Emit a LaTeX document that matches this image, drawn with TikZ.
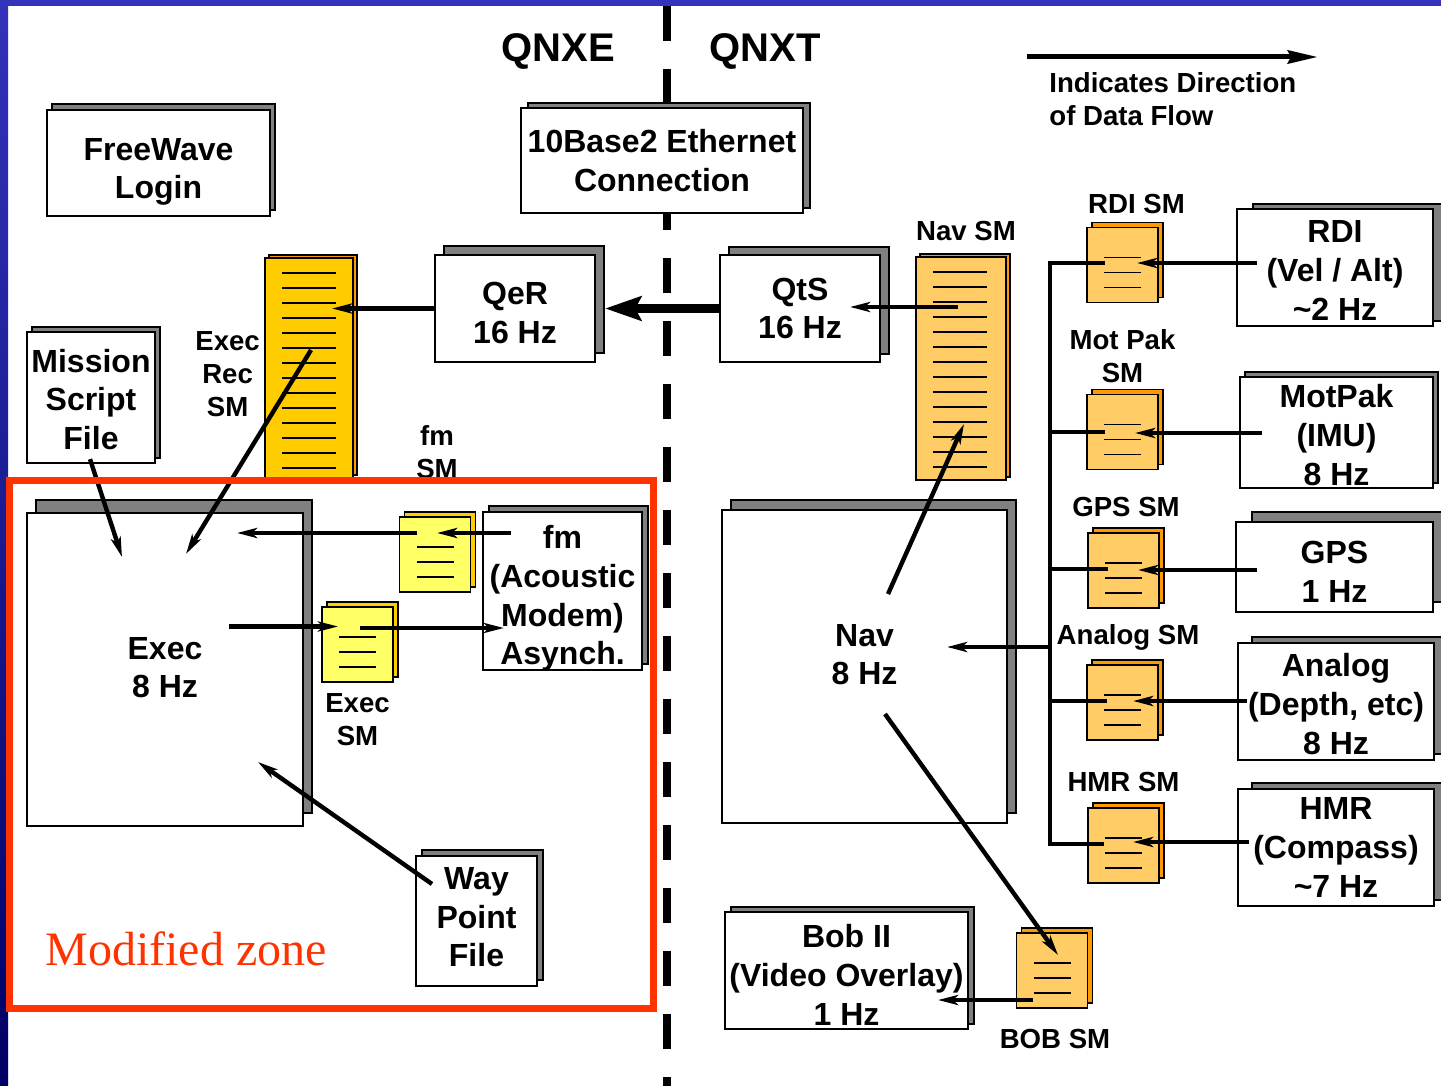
\documentclass[tikz,border=0pt]{standalone}
\usepackage{fontspec}
\setmainfont{Liberation Sans}
\newfontfamily\zoneserif{Liberation Serif}
\usepackage{xcolor}
\usepackage{tikz}
\usetikzlibrary{arrows.meta, positioning, calc, shadows}
\definecolor{frameblue}{RGB}{51,51,187}
\definecolor{framenavy}{RGB}{0,0,102}
\definecolor{zonered}{RGB}{255,51,0}
\definecolor{shadowgray}{RGB}{128,128,128}
\definecolor{smorange}{RGB}{255,204,102}
\definecolor{smback}{RGB}{255,153,0}
\definecolor{recgold}{RGB}{255,204,0}
\definecolor{smyellow}{RGB}{255,255,102}
\newcommand{\boxfont}{\fontsize{16}{19.3}\selectfont\bfseries}
\newcommand{\tagfont}{\fontsize{13.8}{16.5}\selectfont\bfseries}
\newcommand{\headfont}{\fontsize{20}{24}\selectfont\bfseries}

\begin{document}
\begin{tikzpicture}[
    x=0.5pt, y=-0.5pt,
    box/.style={rectangle, draw, line width=1.1pt, fill=white, inner sep=0pt, align=center, font=\boxfont,
        copy shadow={shadow xshift=3pt, shadow yshift=3pt, fill=shadowgray, draw=black, line width=1.1pt, #1}},
    box/.default={},
    smdoc/.style={rectangle, draw, line width=0.8pt, fill=smorange, inner sep=0pt,
        minimum width=35.5pt, minimum height=37.5pt,
        copy shadow={shadow xshift=2.5pt, shadow yshift=2.5pt, fill=#1, draw=black, line width=0.8pt},
        path picture={
            \foreach \k in {30,45,60}
                \draw[line width=0.8pt] ($(path picture bounding box.north west)+(17,\k)$) -- ++(37,0);
        }},
    smdoc/.default=smback,
    recdoc/.style={rectangle, draw, line width=0.8pt, fill=#1, inner sep=0pt,
        copy shadow={shadow xshift=2pt, shadow yshift=1.5pt, fill=smback, draw=black, line width=0.8pt},
        path picture={
            \foreach \k in {1,...,14}
                \draw[line width=0.8pt] ($(path picture bounding box.north west)+(17,15*\k)$) -- ++(54,0);
        }},
    tag/.style={font=\tagfont, align=center, inner sep=0pt},
    flow/.style={-{Stealth[length=10pt, width=5pt, inset=2.5pt]}, line width=2.2pt},
    wire/.style={line width=2.2pt},
    bigflow/.style={-{Stealth[length=18pt, width=12pt, inset=3pt]}, line width=4.5pt},
    legflow/.style={-{Stealth[length=15pt, width=6.5pt, inset=1.5pt]}, line width=2.5pt}
]
\useasboundingbox (0,0) rectangle (1441,1086);

% slide frame
\fill[frameblue] (0,0) rectangle (1441,6);
\shade[top color=frameblue, bottom color=framenavy] (0,0) rectangle (8,1086);

% QNXE / QNXT split
\coordinate (divtop) at (667,6);
\coordinate (divbot) at (667,1086);
\draw[line width=4pt, dash pattern=on 17.5pt off 14pt] (divtop) -- (divbot);
\node[font=\headfont, anchor=base, inner sep=0pt] (qnxe) at (558,62) {QNXE};
\node[font=\headfont, anchor=base, inner sep=0pt] (qnxt) at (765,62) {QNXT};

% legend
\coordinate (legstart) at (1027,57);
\coordinate (legend) at (1318,57);
\draw[legflow] (legstart) -- (legend);
\node[tag, align=left, anchor=west] (legtext) at (1049,99) {Indicates Direction\\of Data Flow};

% QNXE side
\node[box={shadow xshift=2.5pt}, minimum width=111.5pt, minimum height=53pt, text height=35.8pt, text depth=0pt] (freewave) at (158.5,163) {FreeWave\\Login};
\node[box={shadow xshift=3.5pt, shadow yshift=2.5pt}, minimum width=141pt, minimum height=52.5pt] (ether) at (662,160.5) {10Base2 Ethernet\\Connection};
\node[box={shadow xshift=4.5pt, shadow yshift=4.5pt}, minimum width=80pt, minimum height=53.5pt, text height=34.5pt, text depth=0pt] (qer) at (515,308.5) {QeR\\16 Hz};
\node[box={shadow xshift=2.5pt, shadow yshift=2.5pt}, minimum width=64pt, minimum height=65.5pt, text height=52pt, text depth=0pt] (mission) at (91,397.5) {Mission\\Script\\File};
\node[box={shadow xshift=4.5pt, shadow yshift=6.5pt}, minimum width=138pt, minimum height=156.5pt, text depth=2pt] (exec) at (165,669.5) {Exec\\8 Hz};
\node[box, minimum width=79.5pt, minimum height=79pt, text height=73.7pt, text depth=0pt] (fmbox) at (562.5,591) {fm\\(Acoustic\\Modem)\\Asynch.};
\node[box, minimum width=60.5pt, minimum height=65pt, text depth=4pt] (waypt) at (476.5,921) {Way\\Point\\File};

% QNXT side
\node[box={shadow xshift=4.5pt, shadow yshift=4pt}, minimum width=80pt, minimum height=53.5pt] (qts) at (800,308.5) {QtS\\16 Hz};
\node[box={shadow xshift=4.5pt, shadow yshift=5pt}, minimum width=142.5pt, minimum height=156.5pt, text depth=12pt] (nav) at (864.5,666.5) {Nav\\8 Hz};
\node[box={shadow xshift=8pt, shadow yshift=2.5pt}, minimum width=98pt, minimum height=58.5pt, text height=52.6pt, text depth=0pt] (rdi) at (1335,267.5) {RDI\\(Vel / Alt)\\\textasciitilde2 Hz};
\node[box={shadow xshift=2.5pt, shadow yshift=2.5pt}, minimum width=96.5pt, minimum height=55.5pt, text height=52.5pt, text depth=0pt] (motpak) at (1336.5,432.5) {MotPak\\(IMU)\\8 Hz};
\node[box={shadow xshift=8pt, shadow yshift=5pt}, minimum width=98.5pt, minimum height=45pt, text height=35.5pt, text depth=0pt] (gps) at (1334.5,567) {GPS\\1 Hz};
\node[box={shadow xshift=7pt, shadow yshift=3pt}, minimum width=98pt, minimum height=58.5pt, text height=52.5pt, text depth=0pt] (analog) at (1336,701.5) {Analog\\(Depth, etc)\\8 Hz};
\node[box={shadow xshift=7pt, shadow yshift=3pt}, minimum width=98pt, minimum height=58.5pt] (hmr) at (1336,847.5) {HMR\\(Compass)\\\textasciitilde7 Hz};
\node[box={shadow yshift=2.5pt}, minimum width=121.5pt, minimum height=58.5pt, text height=54.5pt, text depth=0pt] (bob) at (846.5,970.5) {Bob II\\(Video Overlay)\\1 Hz};

% shared memories
\node[recdoc=recgold, minimum width=44pt, minimum height=110pt] (execrec) at (309,368) {};
\node[recdoc=smorange, minimum width=45pt, minimum height=111.5pt] (navsm) at (961,368.5) {};
\node[smdoc] (rdism) at (1122.5,265) {};
\node[smdoc] (motsm) at (1122.5,432) {};
\node[smdoc] (gpssm) at (1123.5,570.5) {};
\node[smdoc] (analogsm) at (1122.5,702.5) {};
\node[smdoc] (hmrsm) at (1123.5,845.5) {};
\node[smdoc] (bobsm) at (1052,970.5) {};
\node[smdoc=recgold, fill=smyellow] (fmsm) at (435,554.5) {};
\node[smdoc=recgold, fill=smyellow] (execsm) at (357.5,644.5) {};

% shared memory names
\node[tag, left=2pt of execrec, yshift=-3pt] (execrectag) {Exec\\Rec\\SM};
\node[tag, above=7.5pt of navsm, xshift=2.5pt] (navsmtag) {Nav SM};
\node[tag, above=6.5pt of rdism, xshift=7pt] (rdismtag) {RDI SM};
\node[tag, above=5.5pt of motsm] (motsmtag) {Mot Pak\\SM};
\node[tag, above=7.5pt of gpssm, xshift=1.25pt] (gpssmtag) {GPS SM};
\node[tag, above=6.5pt of analogsm, xshift=2.75pt] (analogsmtag) {Analog SM};
\node[tag, above=7.5pt of hmrsm] (hmrsmtag) {HMR SM};
\node[tag, below=10pt of bobsm, xshift=1.5pt] (bobsmtag) {BOB SM};
\node[tag, below=5pt of execsm] (execsmtag) {Exec\\SM};
\node[tag, above=18.5pt of fmsm, xshift=1pt] (fmsmtag) {fm\\SM};

% arrows into and out of Exec
\draw[flow] ($(mission.south)+(-1,-5)$) -- ($(exec.center)+(-43,-112.5)$);
\draw[flow] ($(execrec.center)+(2,-18)$) -- ($(exec.center)+(21,-115.5)$);
\draw[flow] ($(waypt.center)+(-44.5,-37)$) -- ($(exec.center)+(93,92.5)$);
\draw[flow] ($(fmbox.west |- fmsm.center)+(29,-21.5)$) -- ($(fmsm.center)+(2,-21.5)$);
\draw[flow] ($(fmsm.center)+(-18,-21.5)$) -- ($(exec.center |- fmsm.center)+(72,-21.5)$);
\draw[flow] ($(exec.center |- execsm.center)+(64,-18)$) -- ($(execsm.center)+(-19.5,-18)$);
\draw[flow] ($(execsm.center)+(2.5,-16.5)$) -- ($(fmbox.west |- execsm.center)+(22,-16.5)$);

% across the ethernet
\draw[flow] (qer.west) -- ($(execrec.center |- qer.west)+(23,0)$);
\draw[bigflow] (qts.west) -- ($(qer.east)+(9,0)$);
\draw[flow] ($(navsm.center |- qts.west)+(-3,-1.5)$) -- ($(qts.center)+(50,-1.5)$);

% Nav
\draw[flow] ($(nav.center)+(23.5,-72.5)$) -- ($(navsm.center)+(3,55.5)$);
\draw[flow] ($(nav.center)+(20.5,47.5)$) -- ($(bobsm.center)+(6,-15.5)$);
\draw[flow] ($(bobsm.center)+(-19,29.5)$) -- ($(bob.center)+(91.5,29.5)$);

% sensor bus
\coordinate (bus) at (1050,647);
\draw[wire] ($(rdism.center)+(-18,-2)$) -| (bus) |- ($(hmrsm.center)+(-20,-1.5)$);
\draw[wire] (bus |- motsm.center) -- ($(motsm.center)+(-18,0)$);
\draw[wire] ($(bus |- gpssm.center)+(0,-1.5)$) -- ($(gpssm.center)+(-16,-1.5)$);
\draw[wire] ($(bus |- analogsm.center)+(0,-1.5)$) -- ($(analogsm.center)+(-16,-1.5)$);
\draw[flow] (bus) -- ($(nav.center)+(82.5,-19.5)$);

% sensors
\draw[flow] ($(rdi.west |- rdism.center)+(21,-2)$) -- ($(rdism.center)+(14.5,-2)$);
\draw[flow] ($(motpak.west |- motsm.center)+(23,1)$) -- ($(motsm.center)+(12.5,1)$);
\draw[flow] ($(gps.west |- gpssm.center)+(22,-0.5)$) -- ($(gpssm.center)+(14.5,-0.5)$);
\draw[flow] ($(analog.west |- analogsm.center)+(10,-1.5)$) -- ($(analogsm.center)+(10.5,-1.5)$);
\draw[flow] ($(hmr.west |- hmrsm.center)+(12,-3.5)$) -- ($(hmrsm.center)+(9.5,-3.5)$);

% modified zone
\node[draw=zonered, line width=3.5pt, minimum width=322pt, minimum height=264pt, inner sep=0pt] (zone) at (331,744) {};
\node[anchor=base west, text=zonered, font=\zoneserif\fontsize{24}{28}\selectfont, inner sep=0pt] (zonetag) at (45,965) {Modified zone};

\end{tikzpicture}
\end{document}
